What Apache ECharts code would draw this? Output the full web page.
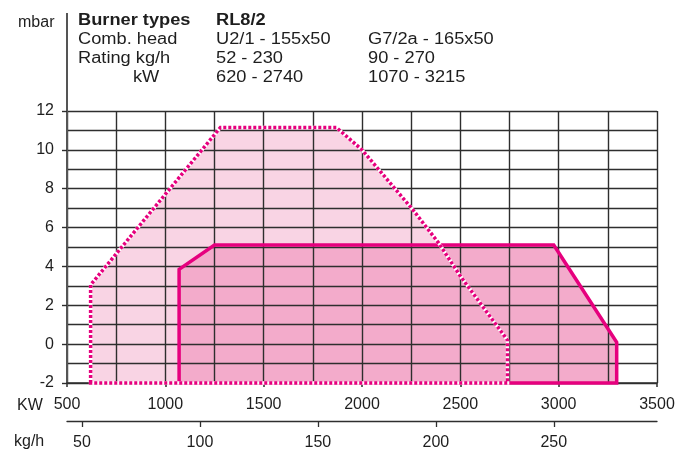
<!DOCTYPE html>
<html>
<head>
<meta charset="utf-8">
<script src="https://cdn.jsdelivr.net/npm/echarts@6.0.0/dist/echarts.min.js"></script>
<style>
  html, body { margin: 0; padding: 0; background: #fff; }
  #chart { width: 687px; height: 451px; }
</style>
</head>
<body>
<div id="chart"></div>
<script>
// RL8/2 firing range: combustion-chamber pressure (mbar) against output (kW / kg/h)
const powerTicks = [500, 1000, 1500, 2000, 2500, 3000, 3500];   // kW
const flowTicks = [50, 100, 150, 200, 250];                       // kg/h
const pressureTicks = [-2, 0, 2, 4, 6, 8, 10, 12];                // mbar

// Working field with combustion head U2/1 - 155x50 (dotted outline)
const headU21 = [[620, -2], [620, 3.05], [1280, 11.15], [1870, 11.15], [2000, 10.0],
                 [2260, 6.9], [2390, 5.2], [2500, 3.5], [2740, 0.2], [2740, -2]];
// Working field with combustion head G7/2a - 165x50 (solid outline)
const headG72a = [[1070, -2], [1070, 3.85], [1250, 5.1], [2975, 5.1], [3295, 0.1], [3295, -2]];

// Header table
const headerLabels = ['Burner types', 'Comb. head', 'Rating kg/h', 'kW'];
const headerCol1 = ['RL8/2', 'U2/1 - 155x50', '52 - 230', '620 - 2740'];
const headerCol2 = ['', 'G7/2a - 165x50', '90 - 270', '1070 - 3215'];

const MAGENTA = '#e6007e';
const FONT = '"Liberation Sans", Arial, sans-serif';
const TEXT = '#1e1e1e';
const GRID_LINE = '#2e2e2e';
const plain = function (v) { return String(v); };

// Draws the whole data list of a series as one closed polygon
function polygonSeries(points, z, makeShape) {
  return {
    type: 'custom',
    coordinateSystem: 'cartesian2d',
    z: z,
    silent: true,
    data: points,
    renderItem: function (params, api) {
      if (params.dataIndexInside !== 0) return null;
      const pts = [];
      for (let i = 0; i < params.dataInsideLength; i++) {
        pts.push(api.coord([api.value(0, i), api.value(1, i)]));
      }
      return makeShape(pts);
    }
  };
}

function headerText(x, y, text, bold) {
  return {
    type: 'text', x: x, y: y, scaleX: 1.14,
    style: { text: text, font: (bold ? 'bold ' : '') + '16px ' + FONT, fill: TEXT, verticalAlign: 'middle' }
  };
}

const header = [];
const rowY = [21, 40, 59, 78];
headerLabels.forEach(function (t, i) {
  header.push(headerText(i === 3 ? 133 : 78, rowY[i], t, i === 0));
  header.push(headerText(216, rowY[i], headerCol1[i], i === 0));
  header.push(headerText(368, rowY[i], headerCol2[i], false));
});

const chart = echarts.init(document.getElementById('chart'), null, { renderer: 'canvas' });

chart.setOption({
  animation: false,
  backgroundColor: '#ffffff',
  grid: { left: 67, right: 30, top: 111, bottom: 68, containLabel: false },
  xAxis: [
    {
      type: 'value', min: 500, max: 3500, interval: 500, z: 3,
      axisLine: { show: true, onZero: false, lineStyle: { color: GRID_LINE, width: 1.5 } },
      axisTick: { show: true, length: 4, lineStyle: { color: GRID_LINE, width: 1.5 } },
      axisLabel: { customValues: powerTicks, formatter: plain, color: TEXT, fontFamily: FONT, fontSize: 16, margin: 14 },
      splitLine: { show: true, lineStyle: { color: GRID_LINE, width: 1.4 } },
      minorTick: { show: false, splitNumber: 2 },
      minorSplitLine: { show: true, lineStyle: { color: GRID_LINE, width: 1.4 } }
    },
    {
      type: 'value', position: 'bottom', offset: 38, min: 43.65, max: 293.74, z: 3,
      axisLine: { show: true, onZero: false, lineStyle: { color: GRID_LINE, width: 1.3 } },
      axisTick: { show: true, customValues: flowTicks, length: 6, lineStyle: { color: GRID_LINE, width: 1.3 } },
      axisLabel: { customValues: flowTicks, formatter: plain, color: TEXT, fontFamily: FONT, fontSize: 16, margin: 14 },
      splitLine: { show: false }
    }
  ],
  yAxis: {
    type: 'value', min: -2, max: 12, interval: 2, z: 3,
    axisLine: { show: true, onZero: false, lineStyle: { color: '#555', width: 2 } },
    axisTick: { show: true, length: 5, lineStyle: { color: GRID_LINE, width: 1.4 } },
    axisLabel: { customValues: pressureTicks, formatter: plain, color: TEXT, fontFamily: FONT, fontSize: 16, margin: 13 },
    splitLine: { show: true, lineStyle: { color: GRID_LINE, width: 1.4 } },
    minorTick: { show: false, splitNumber: 2 },
    minorSplitLine: { show: true, lineStyle: { color: GRID_LINE, width: 1.4 } }
  },
  graphic: [
    { type: 'line', shape: { x1: 67, y1: 13, x2: 67, y2: 111 }, style: { stroke: '#555', lineWidth: 2 } },
    { type: 'text', x: 18, y: 23, style: { text: 'mbar', font: '16px ' + FONT, fill: TEXT, verticalAlign: 'middle' } },
    { type: 'text', x: 17, y: 406, style: { text: 'KW', font: '16px ' + FONT, fill: TEXT, verticalAlign: 'middle' } },
    { type: 'text', x: 14, y: 442, style: { text: 'kg/h', font: '16px ' + FONT, fill: TEXT, verticalAlign: 'middle' } }
  ].concat(header),
  series: [
    // fills sit below the grid lines
    polygonSeries(headU21, 1, function (pts) {
      return { type: 'polygon', shape: { points: pts }, style: { fill: '#f9d4e4', stroke: null } };
    }),
    polygonSeries(headG72a, 1, function (pts) {
      return { type: 'polygon', shape: { points: pts }, style: { fill: '#f3abcb', stroke: null } };
    }),
    // outlines sit above the grid lines
    polygonSeries(headG72a, 5, function (pts) {
      return { type: 'polygon', shape: { points: pts },
        style: { fill: null, stroke: MAGENTA, lineWidth: 3.5, lineJoin: 'miter' } };
    }),
    polygonSeries(headU21, 6, function (pts) {
      return { type: 'group', children: [
        { type: 'polygon', shape: { points: pts }, style: { fill: null, stroke: '#ffffff', lineWidth: 3.5 } },
        { type: 'polygon', shape: { points: pts },
          style: { fill: null, stroke: MAGENTA, lineWidth: 3.5, lineDash: [3, 2], lineCap: 'butt' } }
      ] };
    })
  ]
});
</script>
</body>
</html>
